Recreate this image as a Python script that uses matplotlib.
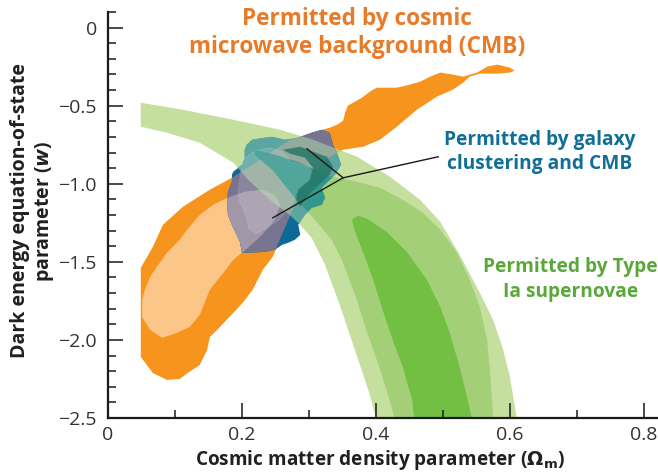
import matplotlib
matplotlib.use("Agg")
import matplotlib.pyplot as plt
from matplotlib.patches import Polygon
from matplotlib.ticker import MultipleLocator

plt.rcParams['font.family'] = ['Open Sans', 'DejaVu Sans']
plt.rcParams['mathtext.fontset'] = 'custom'
plt.rcParams['mathtext.it'] = 'DejaVu Sans:italic:bold'
plt.rcParams['mathtext.rm'] = 'DejaVu Sans:bold'

# outlines of the permitted regions as (Omega_m, w)
cmb_outer = [(0.049, -2.109), (0.049, -1.538), (0.067, -1.404), (0.082, -1.263), (0.112, -1.147),
             (0.152, -1.038), (0.185, -0.962), (0.227, -0.846), (0.272, -0.718), (0.309, -0.667),
             (0.331, -0.641), (0.342, -0.622), (0.351, -0.596), (0.354, -0.545), (0.358, -0.500),
             (0.366, -0.481), (0.379, -0.449), (0.391, -0.410), (0.401, -0.385), (0.431, -0.385),
             (0.451, -0.365), (0.466, -0.346), (0.481, -0.314), (0.496, -0.288), (0.515, -0.301),
             (0.530, -0.314), (0.551, -0.288), (0.566, -0.250), (0.581, -0.237), (0.600, -0.256),
             (0.607, -0.276), (0.600, -0.288), (0.581, -0.295), (0.555, -0.295), (0.540, -0.314),
             (0.530, -0.353), (0.515, -0.397), (0.491, -0.442), (0.461, -0.526), (0.431, -0.635),
             (0.406, -0.718), (0.381, -0.763), (0.351, -0.782), (0.331, -0.827), (0.304, -0.942),
             (0.282, -1.103), (0.264, -1.282), (0.246, -1.468), (0.231, -1.551), (0.216, -1.679),
             (0.201, -1.763), (0.187, -1.827), (0.163, -1.936), (0.152, -1.981), (0.148, -2.064),
             (0.137, -2.160), (0.119, -2.212), (0.107, -2.250), (0.088, -2.256), (0.067, -2.212)]
cmb_inner = [(0.051, -1.853), (0.051, -1.744), (0.055, -1.679), (0.063, -1.596), (0.073, -1.532),
             (0.088, -1.442), (0.107, -1.359), (0.118, -1.295), (0.137, -1.199), (0.157, -1.135),
             (0.178, -1.090), (0.204, -1.051), (0.230, -1.038), (0.249, -1.071), (0.257, -1.135),
             (0.249, -1.231), (0.230, -1.327), (0.209, -1.410), (0.187, -1.487), (0.172, -1.571),
             (0.152, -1.679), (0.137, -1.840), (0.122, -1.917), (0.103, -1.955), (0.081, -1.987),
             (0.063, -1.936)]
sn_outer = [(0.049, -0.481), (0.112, -0.526), (0.187, -0.590), (0.257, -0.654), (0.306, -0.718),
            (0.372, -0.827), (0.421, -0.955), (0.466, -1.103), (0.496, -1.244), (0.525, -1.455),
            (0.555, -1.699), (0.575, -1.872), (0.590, -2.064), (0.600, -2.237), (0.607, -2.417),
            (0.610, -2.500), (0.400, -2.500), (0.391, -2.353), (0.376, -2.160), (0.361, -1.968),
            (0.346, -1.776), (0.324, -1.519), (0.304, -1.346), (0.284, -1.250), (0.269, -1.192),
            (0.245, -1.115), (0.209, -0.974), (0.187, -0.865), (0.137, -0.737), (0.088, -0.673),
            (0.049, -0.635)]
sn_mid = [(0.219, -0.782), (0.249, -0.814), (0.287, -0.865), (0.327, -0.949), (0.366, -0.981),
          (0.406, -1.026), (0.440, -1.103), (0.470, -1.186), (0.496, -1.295), (0.521, -1.442),
          (0.540, -1.615), (0.555, -1.788), (0.566, -2.000), (0.570, -2.192), (0.575, -2.500),
          (0.428, -2.500), (0.418, -2.353), (0.404, -2.160), (0.388, -1.968), (0.369, -1.712),
          (0.349, -1.487), (0.334, -1.359), (0.309, -1.231), (0.279, -1.090), (0.245, -0.910),
          (0.219, -0.814)]
sn_inner = [(0.364, -1.231), (0.373, -1.205), (0.387, -1.224), (0.416, -1.308), (0.446, -1.436),
            (0.476, -1.615), (0.496, -1.788), (0.510, -1.955), (0.525, -2.173), (0.537, -2.385),
            (0.543, -2.500), (0.457, -2.500), (0.454, -2.385), (0.440, -2.173), (0.425, -2.000),
            (0.410, -1.808), (0.396, -1.615), (0.381, -1.442), (0.369, -1.308)]
gal_outer = [(0.207, -0.750), (0.215, -0.718), (0.234, -0.705), (0.245, -0.699), (0.264, -0.718),
             (0.284, -0.705), (0.304, -0.673), (0.319, -0.654), (0.331, -0.673), (0.336, -0.750),
             (0.343, -0.814), (0.348, -0.878), (0.339, -0.942), (0.328, -0.987), (0.319, -1.026),
             (0.324, -1.090), (0.319, -1.135), (0.304, -1.154), (0.294, -1.199), (0.284, -1.263),
             (0.287, -1.327), (0.279, -1.359), (0.269, -1.378), (0.260, -1.391), (0.249, -1.423),
             (0.234, -1.436), (0.209, -1.442), (0.200, -1.442), (0.197, -1.372), (0.190, -1.308),
             (0.185, -1.263), (0.179, -1.199), (0.178, -1.115), (0.179, -1.051), (0.185, -0.987),
             (0.185, -0.942), (0.187, -0.923), (0.200, -0.878), (0.204, -0.833), (0.204, -0.782)]
gal_inner = [(0.201, -0.846), (0.219, -0.788), (0.242, -0.769), (0.260, -0.795), (0.275, -0.859),
             (0.299, -0.885), (0.306, -0.949), (0.294, -1.013), (0.281, -1.058), (0.276, -1.122),
             (0.266, -1.179), (0.254, -1.237), (0.237, -1.282), (0.222, -1.321), (0.210, -1.288),
             (0.206, -1.205), (0.197, -1.122), (0.194, -1.051), (0.197, -0.962)]
gal_core = [(0.261, -0.782), (0.287, -0.763), (0.306, -0.795), (0.327, -0.827), (0.336, -0.891),
            (0.331, -0.942), (0.312, -1.019), (0.297, -1.083), (0.287, -1.147), (0.281, -1.103),
            (0.284, -1.038), (0.301, -0.974), (0.306, -0.897), (0.294, -0.833), (0.272, -0.808)]

# leader line of the galaxy label: label end, junction, two tips
leader_x = [0.493, 0.351, 0.297]
leader_y = [-0.827, -0.962, -0.776]
leader2_x = [0.351, 0.246]
leader2_y = [-0.962, -1.218]

xticks = [0, 0.2, 0.4, 0.6, 0.8]
xticklabels = ['0', '0.2', '0.4', '0.6', '0.8']
yticks = [0, -0.5, -1.0, -1.5, -2.0, -2.5]
yticklabels = ['0', '\u22120.5', '\u22121.0', '\u22121.5', '\u22122.0', '\u22122.5']

fig = plt.figure(figsize=(6.58, 4.72), dpi=100)
ax = fig.add_axes([0.1641, 0.1144, 0.8359, 0.8602])
ax.set_xlim(0, 0.821)
ax.set_ylim(-2.5, 0.1)


def shape(pts, color, alpha=1.0, clip=None, z=1.0, edge='none', lw=0):
    p = Polygon(pts, closed=True, facecolor=color, edgecolor=edge, linewidth=lw,
                alpha=alpha, zorder=z)
    ax.add_patch(p)
    if clip is not None:
        p.set_clip_path(clip)
    return p


def clipper(pts):
    return Polygon(pts, closed=True, transform=ax.transData)


# CMB
shape(cmb_outer, '#f7941d')
shape(cmb_inner, '#fbc687')
# supernovae
shape(sn_outer, '#b5d783', alpha=0.78, z=1.1)
shape(sn_mid, '#a3d077', z=1.2)
shape(sn_inner, '#72bf44', z=1.3)

# galaxy clustering + CMB, coloured by what lies under it
shape(gal_outer, '#0b6a96', z=1.5)
shape(gal_outer, '#78748f', clip=clipper(cmb_outer), z=1.51)
shape(gal_outer, '#a197a9', clip=clipper(cmb_inner), z=1.52)
shape(gal_outer, '#afe1aa', alpha=0.5, clip=clipper(sn_outer), z=1.53)
shape(gal_outer, '#2e978a', alpha=0.9, clip=clipper(sn_mid), z=1.54)
shape(gal_inner, 'white', alpha=0.13, z=1.6, edge=(1, 1, 1, 0.35), lw=0.6)
shape(gal_core, '#26786a', alpha=0.85, z=1.7)

ax.plot(leader_x, leader_y, color='#1a1a1a', lw=1.0, zorder=5)
ax.plot(leader2_x, leader2_y, color='#1a1a1a', lw=1.0, zorder=5)

ax.text(0.372, -0.035, 'Permitted by cosmic\nmicrowave background (CMB)', color='#e87b2a',
        fontsize=16.3, fontweight='bold', ha='center', va='center', linespacing=1.2)
ax.text(0.644, -0.795, 'Permitted by galaxy\nclustering and CMB', color='#116e96',
        fontsize=13.8, fontweight='bold', ha='center', va='center', linespacing=1.3)
ax.text(0.690, -1.615, 'Permitted by Type\nIa supernovae', color='#5aa83a',
        fontsize=13.8, fontweight='bold', ha='center', va='center', linespacing=1.35)

for s in ['top', 'right']:
    ax.spines[s].set_visible(False)
for s in ['left', 'bottom']:
    ax.spines[s].set_linewidth(1.6)
    ax.spines[s].set_color('#1a1a1a')

ax.set_xticks(xticks, labels=xticklabels)
ax.set_yticks(yticks, labels=yticklabels)
ax.xaxis.set_minor_locator(MultipleLocator(0.1))
ax.yaxis.set_minor_locator(MultipleLocator(0.1))
ax.tick_params(which='major', direction='in', length=11, width=1.1, color='#1a1a1a',
               labelsize=14, labelcolor='#333333')
ax.tick_params(which='minor', direction='in', length=6, width=1.1, color='#1a1a1a')
ax.tick_params(axis='y', which='major', pad=8)
ax.tick_params(axis='x', which='major', pad=6)

ax.set_xlabel('Cosmic matter density parameter ($\\mathit{\\Omega}_\\mathrm{m}$)',
              fontsize=13.7, fontweight='bold', color='#231f20')
ax.set_ylabel('Dark energy equation-of-state\nparameter ($w$)',
              fontsize=14, fontweight='bold', color='#231f20', linespacing=1.15)
ax.xaxis.set_label_coords(0.495, -0.103)
ax.xaxis.label.set_verticalalignment('center')
ax.yaxis.set_label_coords(-0.136, 0.51)
ax.yaxis.label.set_verticalalignment('center')

fig.savefig('out.png', dpi=100)
